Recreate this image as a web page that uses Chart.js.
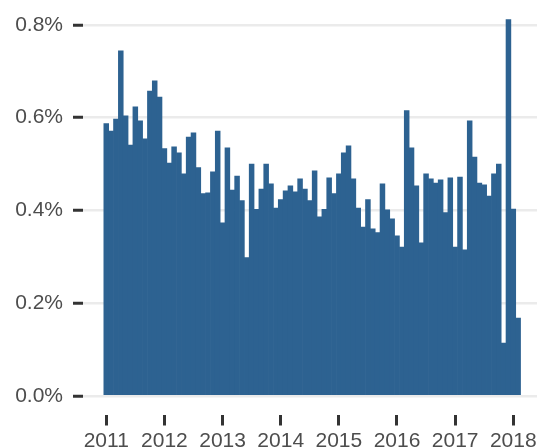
<!DOCTYPE html>
<html>
<head>
<meta charset="utf-8">
<script src="https://cdn.jsdelivr.net/npm/chart.js@4"></script>
<style>
    html, body { margin: 0; padding: 0; background: #ffffff; overflow: hidden; }
    #frame { width: 537px; height: 448px; overflow: hidden; }
    /* canvas is a little bigger than the frame: axis label padding is cropped away */
    #holder { width: 548px; height: 476px; margin-top: -21px; position: relative; }
</style>
</head>
<body>
<div id="frame">
    <div id="holder"><canvas id="shareChart"></canvas></div>
</div>
<script>
// --- Data (monthly share, Jan 2011 .. Feb 2018, in %) ---
const startYear = 2011;
const yearLabels = ['2011', '2012', '2013', '2014', '2015', '2016', '2017', '2018'];
const yTickValues = [0, 0.2, 0.4, 0.6, 0.8];
const monthlyShare = [
    0.587, 0.571, 0.597, 0.744, 0.604, 0.541, 0.623, 0.593, 0.554, 0.657, 0.679, 0.644,
    0.533, 0.502, 0.537, 0.524, 0.479, 0.558, 0.567, 0.492, 0.436, 0.438, 0.483, 0.571,
    0.373, 0.535, 0.444, 0.474, 0.421, 0.298, 0.500, 0.402, 0.446, 0.500, 0.457, 0.405,
    0.423, 0.442, 0.453, 0.440, 0.468, 0.446, 0.421, 0.485, 0.386, 0.402, 0.470, 0.436,
    0.479, 0.524, 0.539, 0.468, 0.405, 0.364, 0.423, 0.360, 0.352, 0.457, 0.401, 0.382,
    0.345, 0.321, 0.615, 0.535, 0.453, 0.330, 0.479, 0.468, 0.459, 0.466, 0.395, 0.470,
    0.321, 0.472, 0.315, 0.593, 0.515, 0.459, 0.455, 0.431, 0.479, 0.500, 0.114, 0.811,
    0.403, 0.168
];

const barColor = '#2d6291';
const textColor = '#4d4d4d';
const tickMarkColor = '#333333';
const axisFont = { family: 'Liberation Sans', size: 21 };

// bars sit on a numeric month index so only the year ticks get marks
const barPoints = monthlyShare.map((v, i) => ({ x: i, y: v }));

document.addEventListener('DOMContentLoaded', () => {
    const ctx = document.getElementById('shareChart').getContext('2d');
    new Chart(ctx, {
        type: 'bar',
        data: {
            datasets: [{
                data: barPoints,
                backgroundColor: barColor,
                borderWidth: 0,
                barPercentage: 1,
                categoryPercentage: 1
            }]
        },
        options: {
            responsive: true,
            maintainAspectRatio: false,
            animation: false,
            layout: { padding: { left: 15, right: 6.6, top: 0, bottom: 0 } },
            plugins: {
                legend: { display: false },
                tooltip: { enabled: false }
            },
            scales: {
                x: {
                    type: 'linear',
                    min: -4.8,
                    max: 89.8,
                    offset: false,
                    border: { display: false },
                    grid: {
                        offset: false,
                        drawOnChartArea: false,
                        tickColor: tickMarkColor,
                        tickWidth: 3,
                        tickLength: 11
                    },
                    afterBuildTicks: scale => {
                        scale.ticks = yearLabels.map((_, i) => ({ value: i * 12 }));
                    },
                    afterFit: scale => { scale.height = 40.5; },
                    ticks: {
                        autoSkip: false,
                        maxRotation: 0,
                        padding: 3,
                        color: textColor,
                        font: axisFont,
                        callback: value => yearLabels[Math.round(value / 12)]
                    }
                },
                y: {
                    min: -0.04,
                    max: 0.85,
                    border: { display: false },
                    grid: {
                        color: '#ebebeb',
                        lineWidth: 2.5,
                        tickColor: tickMarkColor,
                        tickWidth: 3,
                        tickLength: 10
                    },
                    afterBuildTicks: scale => {
                        scale.ticks = yTickValues.map(v => ({ value: v }));
                    },
                    afterFit: scale => { scale.width = 68; },
                    ticks: {
                        padding: 10,
                        color: textColor,
                        font: axisFont,
                        callback: value => value.toFixed(1) + '%'
                    }
                }
            }
        }
    });
});
</script>
</body>
</html>
